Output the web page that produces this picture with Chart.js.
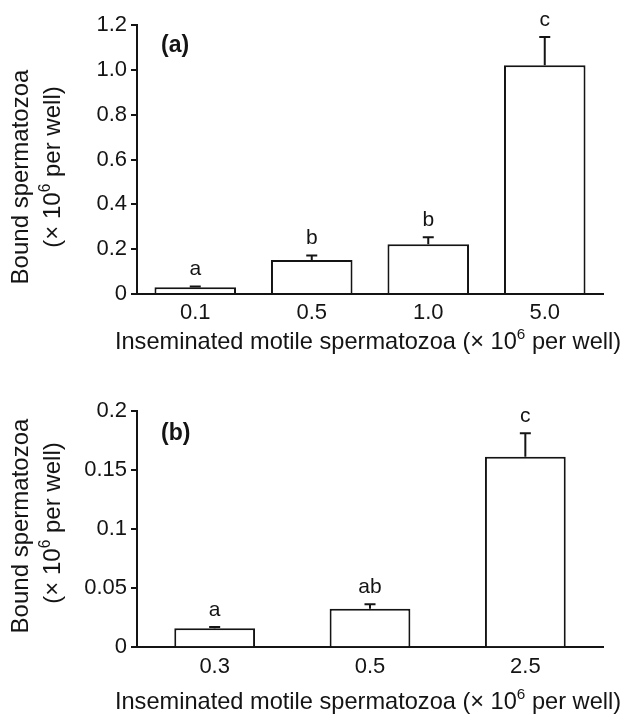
<!DOCTYPE html>
<html>
<head>
<meta charset="utf-8">
<script src="https://cdn.jsdelivr.net/npm/chart.js@4/dist/chart.umd.min.js"></script>
<style>
  html, body { margin: 0; padding: 0; background: #fff; }
  .panel { position: absolute; left: 0; width: 629px; }
</style>
</head>
<body>
<div class="panel" style="top:0;height:360px"><canvas id="grafA" width="629" height="360"></canvas></div>
<div class="panel" style="top:360px;height:356px"><canvas id="grafB" width="629" height="356"></canvas></div>
<script>
// panel (a)
const catsA = ["0.1", "0.5", "1.0", "5.0"];
const valsA = [0.03, 0.152, 0.222, 1.02];
const errA = [0.004, 0.02, 0.031, 0.126];
const lettersA = ["a", "b", "b", "c"];
const tickValsA = [0, 0.2, 0.4, 0.6, 0.8, 1.0, 1.2];
const tickLabelsA = ["0", "0.2", "0.4", "0.6", "0.8", "1.0", "1.2"];

// panel (b)
const catsB = ["0.3", "0.5", "2.5"];
const valsB = [0.016, 0.0325, 0.161];
const errB = [0.0012, 0.0038, 0.02];
const lettersB = ["a", "ab", "c"];
const tickValsB = [0, 0.05, 0.1, 0.15, 0.2];
const tickLabelsB = ["0", "0.05", "0.1", "0.15", "0.2"];

const ink = '#141414';
const fam = '"Liberation Sans", Arial, Helvetica, sans-serif';

Chart.defaults.font.family = fam;
Chart.defaults.color = ink;

// draws text pieces in a row, some as superscript
function drawRich(ctx, parts, cx, y, size) {
    let total = 0;
    parts.forEach(p => {
        ctx.font = (p.sup ? size * 0.65 : size) + 'px ' + fam;
        p.w = ctx.measureText(p.t).width;
        total += p.w;
    });
    let x = cx - total / 2;
    ctx.textAlign = 'left';
    ctx.textBaseline = 'alphabetic';
    parts.forEach(p => {
        ctx.font = (p.sup ? size * 0.65 : size) + 'px ' + fam;
        ctx.fillText(p.t, x, p.sup ? y - size * 0.42 : y);
        x += p.w;
    });
}

const extras = {
    id: 'extras',
    afterDatasetsDraw(chart, args, o) {
        const ctx = chart.ctx;
        const y = chart.scales.y;
        const meta = chart.getDatasetMeta(0);
        ctx.save();
        ctx.strokeStyle = ink;
        ctx.fillStyle = ink;
        ctx.lineWidth = 2;
        meta.data.forEach((bar, i) => {
            const base = y.getPixelForValue(o.vals[i]);
            const top = y.getPixelForValue(o.vals[i] + o.errs[i]);
            ctx.beginPath();
            ctx.moveTo(bar.x, base);
            ctx.lineTo(bar.x, top);
            ctx.moveTo(bar.x - 5.5, top);
            ctx.lineTo(bar.x + 5.5, top);
            ctx.stroke();
            ctx.font = '21px ' + fam;
            ctx.textAlign = 'center';
            ctx.textBaseline = 'alphabetic';
            ctx.fillText(o.letters[i], bar.x, top - 11);
        });
        // panel tag
        ctx.font = 'bold 23px ' + fam;
        ctx.textAlign = 'left';
        ctx.fillText(o.tag, 161, o.tagY);

        // x title
        drawRich(ctx, [
            { t: 'Inseminated motile spermatozoa (\u00d7 10' },
            { t: '6', sup: true },
            { t: ' per well)' }
        ], 368, o.xTitleY, 23.6);

        // y title, two lines
        ctx.save();
        ctx.translate(28, o.yMid1);
        ctx.rotate(-Math.PI / 2);
        drawRich(ctx, [{ t: 'Bound spermatozoa' }], 0, 0, 24);
        ctx.restore();
        ctx.save();
        ctx.translate(60, o.yMid2);
        ctx.rotate(-Math.PI / 2);
        drawRich(ctx, [
            { t: '(\u00d7 10' },
            { t: '6', sup: true },
            { t: ' per well)' }
        ], 0, 0, 24);
        ctx.restore();
        ctx.restore();
    }
};

function painel(id, cats, vals, errs, letters, tickVals, tickLabels, yMax, barPct, extra, xBoxH, padTop) {
    return new Chart(document.getElementById(id), {
        type: 'bar',
        data: {
            labels: cats,
            datasets: [{
                data: vals,
                backgroundColor: '#ffffff',
                borderColor: ink,
                borderWidth: 2,
                barPercentage: barPct,
                categoryPercentage: 1
            }]
        },
        options: {
            responsive: false,
            animation: false,
            layout: { padding: { left: 0, right: 26, top: padTop, bottom: 0 } },
            plugins: {
                legend: { display: false },
                tooltip: { enabled: false },
                extras: Object.assign({ vals: vals, errs: errs, letters: letters }, extra)
            },
            scales: {
                x: {
                    grid: { display: false, drawTicks: false },
                    border: { display: true, color: ink, width: 2 },
                    ticks: { color: ink, font: { size: 22 }, padding: 6 },
                    afterFit: s => { s.height = xBoxH; }
                },
                y: {
                    min: 0,
                    max: yMax,
                    grid: { drawOnChartArea: false, drawTicks: true, tickLength: 6, color: ink, lineWidth: 2 },
                    border: { display: true, color: ink, width: 2 },
                    ticks: {
                        color: ink,
                        font: { size: 22 },
                        padding: 4,
                        callback: (v, i) => tickLabels[i]
                    },
                    afterBuildTicks: s => { s.ticks = tickVals.map(v => ({ value: v })); },
                    afterFit: s => { s.width = 137; }
                }
            }
        },
        plugins: [extras]
    });
}

painel('grafA', catsA, valsA, errA, lettersA, tickValsA, tickLabelsA, 1.2, 0.70,
    { tag: '(a)', tagY: 52, xTitleY: 349, yMid1: 177, yMid2: 167 }, 66, 25);

painel('grafB', catsB, valsB, errB, lettersB, tickValsB, tickLabelsB, 0.2, 0.52,
    { tag: '(b)', tagY: 80, xTitleY: 349, yMid1: 166, yMid2: 163 }, 68.7, 50.7);
</script>
</body>
</html>
